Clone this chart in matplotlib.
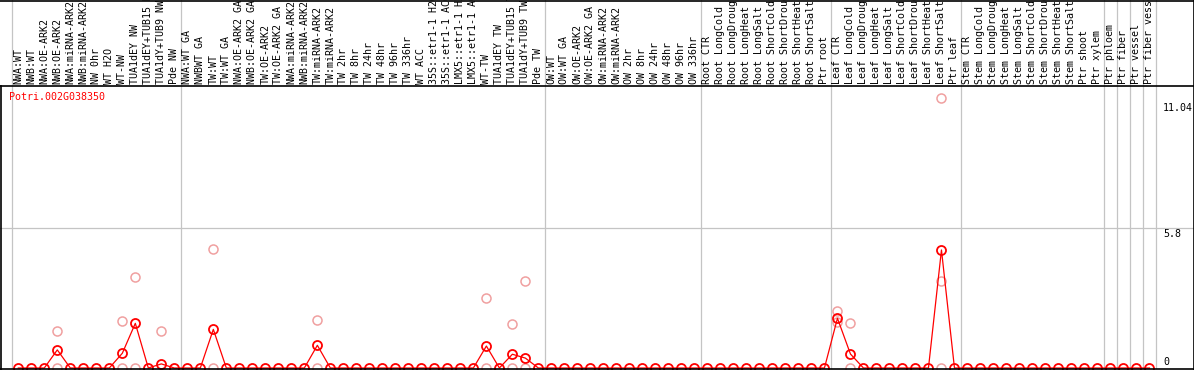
import numpy as np
import matplotlib
matplotlib.use("Agg")
import matplotlib.pyplot as plt
from matplotlib.lines import Line2D
from matplotlib.transforms import blended_transform_factory

# sample labels (88 columns)
samples = [
    "NWA:WT", "NWB:WT", "NWA:OE-ARK2", "NWB:OE-ARK2", "NWA:miRNA-ARK2",
    "NWB:miRNA-ARK2", "NW 0hr", "WT H2O", "WT-NW", "TUA1dEY NW",
    "TUA1dEY+TUB15 NW", "TUA1dY+TUB9 NW", "Pde NW",
    "NWA:WT GA", "NWBWT GA", "TW:WT", "TW:WT GA", "NWA:OE-ARK2 GA",
    "NWB:OE-ARK2 GA", "TW:OE-ARK2", "TW:OE-ARK2 GA", "NWA:miRNA-ARK2",
    "NWB:miRNA-ARK2", "TW:miRNA-ARK2", "TW:miRNA-ARK2", "TW 2hr", "TW 8hr",
    "TW 24hr", "TW 48hr", "TW 96hr", "TW 336hr", "WT ACC", "35S::etr1-1 H2O",
    "35S::etr1-1 ACC", "LMX5::etr1-1 H2O", "LMX5::etr1-1 ACC", "WT-TW",
    "TUA1dEY TW", "TUA1dEY+TUB15 TW", "TUA1dY+TUB9 TW", "Pde TW",
    "OW:WT", "OW:WT GA", "OW:OE-ARK2", "OW:OE-ARK2 GA", "OW:miRNA-ARK2",
    "OW:miRNA-ARK2", "OW 2hr", "OW 8hr", "OW 24hr", "OW 48hr", "OW 96hr",
    "OW 336hr",
    "Root CTR", "Root LongCold", "Root LongDrought", "Root LongHeat",
    "Root LongSalt", "Root ShortCold", "Root ShortDrought", "Root ShortHeat",
    "Root ShortSalt", "Ptr root",
    "Leaf CTR", "Leaf LongCold", "Leaf LongDrought", "Leaf LongHeat",
    "Leaf LongSalt", "Leaf ShortCold", "Leaf ShortDrought", "Leaf ShortHeat",
    "Leaf ShortSalt", "Ptr leaf",
    "Stem CTR", "Stem LongCold", "Stem LongDrought", "Stem LongHeat",
    "Stem LongSalt", "Stem ShortCold", "Stem ShortDrought", "Stem ShortHeat",
    "Stem ShortSalt", "Ptr shoot", "Ptr xylem",
    "Ptr phloem", "Ptr fiber", "Ptr vessel", "Ptr fiber vessel",
]

# mean expression (red line), nonzero entries only
mean_idx = [3, 8, 9, 11, 15, 23, 36, 38, 39, 63, 64, 71]
mean_val = [0.75, 0.61, 1.85, 0.17, 1.60, 0.94, 0.91, 0.57, 0.41, 2.06, 0.58, 4.89]

# replicate points (pale circles)
rep_idx = [3, 3, 8, 8, 9, 9, 11, 15, 15, 23, 23, 36, 36, 38, 38, 39, 39,
           63, 63, 64, 64, 71, 71, 71]
rep_val = [1.52, 0, 1.95, 0, 3.76, 0, 1.52, 4.92, 0, 1.99, 0, 2.89, 0, 1.81, 0,
           3.60, 0, 2.37, 1.92, 1.85, 0, 11.17, 3.59, 0]

# group separators
separators = [-0.5, 12.5, 40.5, 52.5, 62.5, 72.5, 83.5, 84.5, 85.5, 86.5, 87.5]
ytick_vals = [0, 5.8, 11.04]
ytick_text = ["0", "5.8", "11.04"]
gene = "Potri.002G038350"

means = np.zeros(len(samples))
means[mean_idx] = mean_val
x = np.arange(len(samples))

W, H = 1194, 370
fig = plt.figure(figsize=(W / 100, H / 100), dpi=100)
ax = fig.add_axes([1 / W, 2 / H, 1155 / W, 283 / H])
ax.set_xlim(-1.33, 87.5)
ax.set_ylim(0, 283 / 24.14)
for s in ax.spines.values():
    s.set_visible(False)
ax.set_xticks([])
ax.set_yticks([])

mono = "DejaVu Sans Mono"
grey = "#c4c4c4"

for sx in separators:
    ax.axvline(sx, ymin=0, ymax=(H - 2) / 283, color=grey, lw=0.9, clip_on=False, zorder=1)
ax.axhline(5.8, xmin=-1 / 1155, xmax=1193 / 1155, color=grey, lw=0.9, clip_on=False, zorder=1)

ax.plot(rep_idx, rep_val, linestyle="none", marker="o", ms=6.5, mfc="none",
        mec="#f0a0a0", mew=1.1, clip_on=False, zorder=3)
ax.plot(x, means, color="red", lw=0.9, marker="o", ms=6.5, mfc="none",
        mec="red", mew=1.3, clip_on=False, zorder=4)

# sample labels
lbl_tr = blended_transform_factory(ax.transData, ax.transAxes)
for i, name in enumerate(samples):
    ax.text(i, 1.004, name, rotation=90, ha="center", va="bottom",
            fontsize=7.2, family=mono, transform=lbl_tr, clip_on=False)

# y tick labels on the right
tk_tr = blended_transform_factory(ax.transAxes, ax.transData)
for v, t in zip(ytick_vals, ytick_text):
    ax.text(1162 / 1155, v + (0.05 if v == 0 else -0.06), t,
            va="bottom" if v == 0 else "top", ha="left",
            fontsize=7.2, family=mono, transform=tk_tr, clip_on=False)

fig.text(9 / W, 1 - 92 / H, gene, color="red", fontsize=7.2, family=mono,
         ha="left", va="top")

# black frame lines
def fline(x0, y0, x1, y1):
    fig.add_artist(Line2D([x0 / W, x1 / W], [1 - y0 / H, 1 - y1 / H],
                          transform=fig.transFigure, color="black", lw=1.2))

fline(0, 0.5, W, 0.5)
fline(0, 85.5, W, 85.5)
fline(0, 368.5, W, 368.5)
fline(W - 0.5, 0, W - 0.5, H)
fline(1.0, 85.5, 1.0, H)

fig.savefig("out.png", dpi=100)
